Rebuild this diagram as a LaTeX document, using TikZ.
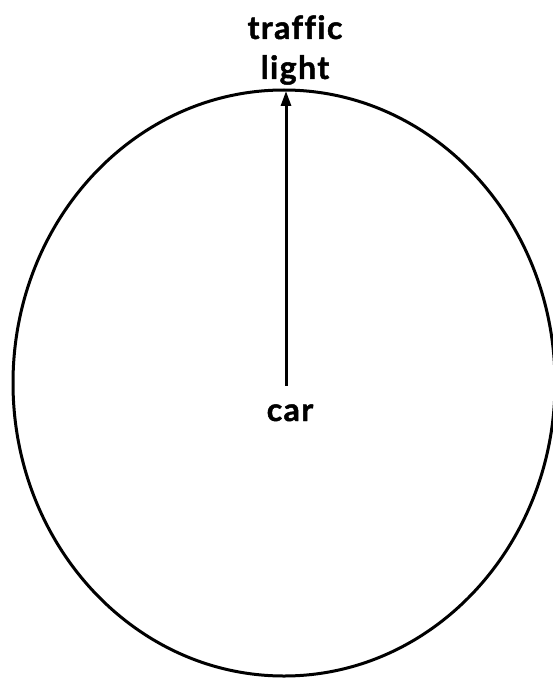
\documentclass[tikz,border=0pt]{standalone}
\usepackage{fontspec}
\setmainfont{Lato}[Ligatures=CommonOff,LetterSpace=4.5,BoldFeatures={FakeBold=1.5}]
\usetikzlibrary{arrows.meta}

\begin{document}
\begin{tikzpicture}[x=1pt,y=-1pt,
  lbl/.style={font=\fontsize{32}{40}\selectfont\bfseries, align=center},
  look/.style={-{Triangle[length=15pt,width=10pt]}, line width=3pt}]
\useasboundingbox (0,0) rectangle (553,679);
\def\cx{284}
\def\cy{383}
            %the ellipse
\draw [line width=3pt] (\cx,\cy) ellipse (271pt and 293pt);
\coordinate (top) at (286,91);
            %labels
\node [lbl] (light) at (295,50) {traffic\\light};
\node [lbl, anchor=base] (car) at (290,421) {car};
            %arrow
\draw [look, shorten <=15pt] (car.north -| top) -- (top);
\end{tikzpicture}
\end{document}
